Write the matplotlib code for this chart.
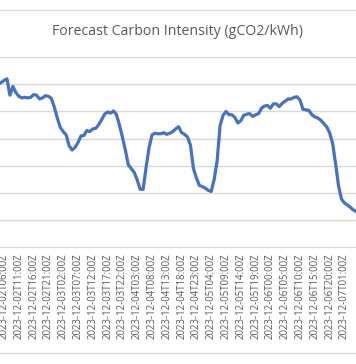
import numpy as np
import pandas as pd
import matplotlib
matplotlib.use("Agg")
import matplotlib.pyplot as plt
from matplotlib.lines import Line2D

plt.rcParams['font.family'] = ['Open Sans', 'DejaVu Sans']

# hourly forecast, 2023-12-02 04:00Z onwards (chart is cropped at both sides)
times = pd.date_range('2023-12-02 04:00', periods=122, freq='h')
intensity = [
    300, 303, 307, 310, 280, 296, 285, 278, 275, 276,
    275, 276, 281, 280, 273, 275, 279, 278, 274, 258,
    238, 221, 213, 207, 187, 179, 184, 193, 205, 206,
    215, 213, 218, 219, 226, 235, 245, 249, 247, 251,
    244, 225, 203, 179, 152, 145, 138, 124, 107, 107,
    147, 183, 207, 210, 209, 209, 211, 208, 210, 213,
    218, 222, 211, 208, 203, 188, 145, 128, 114, 112,
    109, 105, 103, 125, 159, 224, 243, 250, 244, 244,
    239, 229, 233, 243, 245, 246, 241, 244, 246, 256,
    260, 261, 256, 264, 264, 259, 265, 269, 273, 273,
    276, 277, 271, 254, 253, 252, 244, 240, 238, 234,
    228, 222, 211, 192, 155, 114, 89, 82, 78, 74,
    69, 66,
]
labels = [t.strftime('%Y-%m-%dT%H:%MZ') for t in times]
label_every = 5
first_label = 2

blue = '#4472C4'
grid = '#d9d9d9'
txt = '#595959'

fig = plt.figure(figsize=(3.56, 3.64), dpi=100)
ax = fig.add_axes([0.0, 0.3201, 1.0, 0.5231])

x = np.arange(len(intensity))
ax.plot(x, intensity, color=blue, lw=2.3, solid_joinstyle='round')

ax.set_xlim(0.649, 120.92)
ax.set_ylim(0, 350)
ax.set_yticks(np.arange(0, 351, 50))
ax.yaxis.grid(True, color=grid, lw=1)
ax.set_axisbelow(True)
for s in ['top', 'left', 'right']:
    ax.spines[s].set_visible(False)
ax.spines['bottom'].set_color(grid)
ax.tick_params(axis='y', left=False, labelleft=False)

xt = x[first_label::label_every]
ax.set_xticks(xt)
ax.set_xticklabels([labels[i] for i in xt], rotation=90, fontsize=6.9, color=txt)
ax.tick_params(axis='x', length=0, pad=4)

fig.text(0.5, 1 - 31.7 / 364, 'Forecast Carbon Intensity (gCO2/kWh)',
         ha='center', va='center', fontsize=10.2, color=txt)

# chart area border (cropped)
for yy in [10, 353]:
    fig.add_artist(Line2D([0, 1], [1 - yy / 364] * 2, color=grid, lw=1))

fig.savefig('out.png', dpi=100)
